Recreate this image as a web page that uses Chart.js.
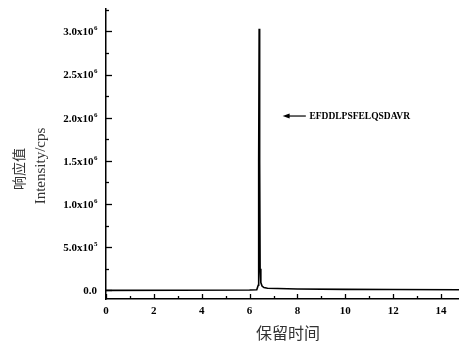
<!DOCTYPE html>
<html lang="en">
<head>
    <meta charset="UTF-8">
    <title>Chromatogram</title>
    <script src="https://cdn.jsdelivr.net/npm/chart.js"></script>
    <style>
        body {
            margin: 0;
            padding: 0;
            background-color: #fff;
        }

        #chartBox {
            width: 459px;
            height: 346px;
        }
    </style>
</head>
<body>
<div id="chartBox">
    <canvas id="chromChart"></canvas>
</div>

<script>
    // retention time (min) and intensity (cps)
    const retentionTimes = [0, 3, 6.0, 6.30, 6.36, 6.38, 6.40, 6.42, 6.44, 6.47, 6.52, 6.6, 6.75, 8, 10, 12, 14.75];
    const intensities = [0, 2000, 4000, 8000, 60000, 1500000, 3030000, 1500000, 250000, 90000, 50000, 32000, 24000, 16000, 12000, 10000, 8000];

    const xTickValues = [0, 2, 4, 6, 8, 10, 12, 14];
    const yTickValues = [0, 500000, 1000000, 1500000, 2000000, 2500000, 3000000];
    // tick label = mantissa + superscript exponent
    const yTickMantissa = ['0.0', '5.0x10', '1.0x10', '1.5x10', '2.0x10', '2.5x10', '3.0x10'];
    const yTickExponent = ['', '5', '6', '6', '6', '6', '6'];

    const peakLabel = 'EFDDLPSFELQSDAVR';
    const panelLabel = '(a)';
    const xTitle = '保留时间';
    const yTitleCn = '响应值';
    const yTitleEn = 'Intensity/cps';

    const points = retentionTimes.map((t, i) => ({x: t, y: intensities[i]}));

    // inward ticks, y labels, titles and the arrow annotation
    const extras = {
        id: 'extras',
        afterDraw(chart) {
            const ctx = chart.ctx;
            const xs = chart.scales.x;
            const ys = chart.scales.y;
            const area = chart.chartArea;
            ctx.save();
            ctx.strokeStyle = '#000';
            ctx.lineWidth = 1.3;
            // x ticks
            for (let v = 0; v <= 14; v++) {
                const px = Math.round(xs.getPixelForValue(v)) + 0.5;
                const len = v % 2 === 0 ? 5 : 3;
                ctx.beginPath();
                ctx.moveTo(px, area.bottom);
                ctx.lineTo(px, area.bottom - len);
                ctx.stroke();
            }
            // y ticks
            for (let v = 0; v <= 3250000; v += 250000) {
                const py = Math.round(ys.getPixelForValue(v)) + 0.5;
                const len = v % 500000 === 0 ? 6 : 3;
                ctx.beginPath();
                ctx.moveTo(area.left, py);
                ctx.lineTo(area.left + len, py);
                ctx.stroke();
            }

            // y tick labels with superscripts
            ctx.fillStyle = '#000';
            ctx.textBaseline = 'middle';
            ctx.textAlign = 'left';
            const right = area.left - 9;
            yTickValues.forEach((v, i) => {
                const py = ys.getPixelForValue(v);
                ctx.font = 'bold 7px "Liberation Serif", serif';
                const ew = ctx.measureText(yTickExponent[i]).width;
                ctx.font = 'bold 11px "Liberation Serif", serif';
                const mw = ctx.measureText(yTickMantissa[i]).width;
                const x0 = right - ew - mw;
                ctx.fillText(yTickMantissa[i], x0, py + 1);
                ctx.font = 'bold 7px "Liberation Serif", serif';
                ctx.fillText(yTickExponent[i], x0 + mw + 0.5, py - 3);
            });

            // arrow + peptide label
            const ay = ys.getPixelForValue(2020000);
            const ax1 = xs.getPixelForValue(7.38);
            const ax2 = xs.getPixelForValue(8.35);
            ctx.lineWidth = 1.2;
            ctx.beginPath();
            ctx.moveTo(ax1 + 4, ay);
            ctx.lineTo(ax2, ay);
            ctx.stroke();
            ctx.beginPath();
            ctx.moveTo(ax1, ay);
            ctx.lineTo(ax1 + 7, ay - 2.5);
            ctx.lineTo(ax1 + 7, ay + 2.5);
            ctx.closePath();
            ctx.fill();
            ctx.font = 'bold 9.5px "Liberation Serif", serif';
            ctx.fillText(peakLabel, xs.getPixelForValue(8.5), ay + 0.5);

            // panel label, mostly cut off at the top
            ctx.fillStyle = '#777';
            ctx.font = '16px "Liberation Serif", serif';
            ctx.textAlign = 'center';
            ctx.textBaseline = 'bottom';
            ctx.fillText(panelLabel, 290, 0);

            // axis titles
            ctx.fillStyle = '#333';
            ctx.font = '16px "Noto Sans CJK SC", sans-serif';
            ctx.textBaseline = 'middle';
            ctx.fillText(xTitle, 288, 333);

            ctx.save();
            ctx.translate(19, 169);
            ctx.rotate(-Math.PI / 2);
            ctx.font = '14px "Noto Sans CJK SC", sans-serif';
            ctx.fillText(yTitleCn, 0, 0);
            ctx.restore();

            ctx.save();
            ctx.translate(41, 166);
            ctx.rotate(-Math.PI / 2);
            ctx.font = '15px "Liberation Serif", serif';
            ctx.fillText(yTitleEn, 0, 0);
            ctx.restore();
            ctx.restore();
        }
    };

    const ctx = document.getElementById('chromChart').getContext('2d');
    new Chart(ctx, {
        type: 'line',
        data: {
            datasets: [{
                data: points,
                borderColor: '#000',
                borderWidth: 1.6,
                pointRadius: 0,
                tension: 0,
                fill: false
            }]
        },
        options: {
            responsive: true,
            maintainAspectRatio: false,
            animation: false,
            layout: {padding: {top: 9, right: 0, left: 0, bottom: 0}},
            plugins: {
                legend: {display: false},
                tooltip: {enabled: false}
            },
            scales: {
                x: {
                    type: 'linear',
                    min: 0,
                    max: 14.75,
                    afterBuildTicks: scale => {
                        scale.ticks = xTickValues.map(v => ({value: v}));
                    },
                    afterFit: scale => {
                        scale.height = 47;
                    },
                    grid: {display: false, drawTicks: false},
                    border: {display: true, color: '#000', width: 1.5},
                    ticks: {
                        color: '#000',
                        padding: 6,
                        maxRotation: 0,
                        font: {family: '"Liberation Serif", serif', weight: 'bold', size: 11}
                    }
                },
                y: {
                    type: 'linear',
                    min: -100000,
                    max: 3260000,
                    afterBuildTicks: scale => {
                        scale.ticks = yTickValues.map(v => ({value: v}));
                    },
                    afterFit: scale => {
                        scale.width = 106;
                    },
                    grid: {display: false, drawTicks: false},
                    border: {display: true, color: '#000', width: 1.5},
                    ticks: {display: false}
                }
            }
        },
        plugins: [extras]
    });
</script>
</body>
</html>
